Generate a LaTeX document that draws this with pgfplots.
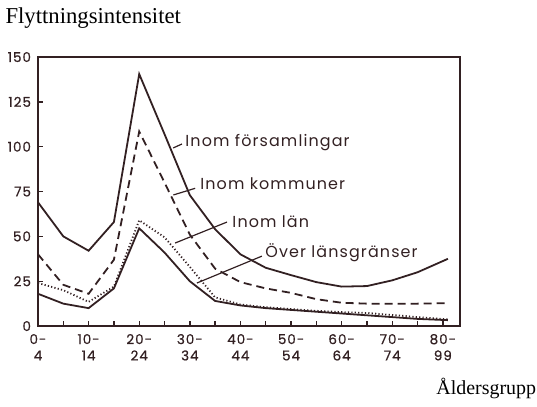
\documentclass[border=0pt]{standalone}
\usepackage{pgfplots}
\pgfplotsset{compat=1.18}
\usepackage{fontspec}
\setmainfont{Liberation Serif}
\newfontfamily\geo{Poppins}[LetterSpace=7, AutoFakeBold=0.6]
\definecolor{ink}{RGB}{50,32,34}

\pgfplotstableread{
x y
0 69
1 50
2 42
3 58
4 140.5
5 107
6 73
7 54
8 40
9 32.5
10 28.4
11 24.5
12 22
13 22.3
14 25.5
15 30
16.2 37.5
}\forsamlingar
\pgfplotstableread{
x y
0 40
1 23
2 18
3 37
4 108.5
5 80
6 51
7 32
8 24.5
9 21
10 18.5
11 15
12 13
13 12.5
14 12.5
15 12.5
16.2 12.8
}\kommuner
\pgfplotstableread{
x y
0 24
1 20
2 13.5
3 22
4 59
5 49.5
6 33
7 16
8 12
9 10.5
10 9.5
11 8.5
12 7.8
13 7.3
14 6.2
15 5
16.2 3.8
}\lan
\pgfplotstableread{
x y
0 18
1 12.5
2 10
3 21
4 54.5
5 41
6 25
7 14
8 11.5
9 10
10 9
11 8
12 7
13 6
14 5
15 4
16.2 3.3
}\over

\begin{document}
\begin{tikzpicture}
\begin{axis}[
  scale only axis,
  width=211bp, height=134.5bp,
  xmin=0, xmax=16.68, ymin=0, ymax=150,
  clip=false,
  axis line style={ink, line width=0.9pt},
  xtick={0,1,...,16},
  xticklabels={{0-\\4},,{10-\\14},,{20-\\24},,{30-\\34},,{40-\\44},,{50-\\54},,{60-\\64},,{70-\\74},,{80-\\99}},
  xticklabel style={align=center, font=\geo\bfseries\fontsize{6.8}{8.2}\selectfont, text=ink},
  ytick={0,25,...,150},
  yticklabel style={font=\geo\bfseries\fontsize{6.8}{8.2}\selectfont, text=ink},
  /pgf/number format/assume math mode=true,
  xtick pos=bottom, ytick pos=left,
  tick align=inside,
  major tick length=2.5bp,
  tick style={ink, line width=0.7pt},
  xticklabel shift=0.5bp,
  yticklabel shift=0bp,
]
\path (axis cs:-1.502,181.8) rectangle (axis cs:19.72,-44.6);
\addplot[ink, line width=0.9pt] table {\forsamlingar};
\addplot[ink, line width=0.9pt, dash pattern=on 4bp off 2.5bp] table {\kommuner};
\addplot[ink, line width=0.9pt, dash pattern=on 0.6bp off 1.1bp] table {\lan};
\addplot[ink, line width=0.9pt] table {\over};

\draw[ink, line width=0.6pt] (axis cs:5.34,99.3) -- (axis cs:5.69,101.5);
\node[anchor=west, inner sep=0pt, text=ink, font=\geo\fontsize{8}{9}\selectfont] at (axis cs:5.81,102.1) {Inom församlingar};
\draw[ink, line width=0.6pt] (axis cs:5.35,73.1) -- (axis cs:6.21,76.8);
\node[anchor=west, inner sep=0pt, text=ink, font=\geo\fontsize{8}{9}\selectfont] at (axis cs:6.40,79.3) {Inom kommuner};
\draw[ink, line width=0.6pt] (axis cs:5.42,46.3) -- (axis cs:7.47,58.0);
\node[anchor=west, inner sep=0pt, text=ink, font=\geo\fontsize{8}{9}\selectfont] at (axis cs:7.67,58.0) {Inom län};
\draw[ink, line width=0.6pt] (axis cs:6.28,24.0) -- (axis cs:8.85,39.0);
\node[anchor=west, inner sep=0pt, text=ink, font=\geo\fontsize{8}{9}\selectfont] at (axis cs:8.97,40.7) {Över länsgränser};

\node[anchor=west, inner sep=0pt, font=\fontsize{11.4}{13}\selectfont] at (axis cs:-1.30,171.8) {Flyttningsintensitet};
\node[anchor=east, inner sep=0pt, font=\fontsize{10}{12}\selectfont] at (axis cs:19.70,-34.6) {Åldersgrupp};
\end{axis}
\end{tikzpicture}
\end{document}
